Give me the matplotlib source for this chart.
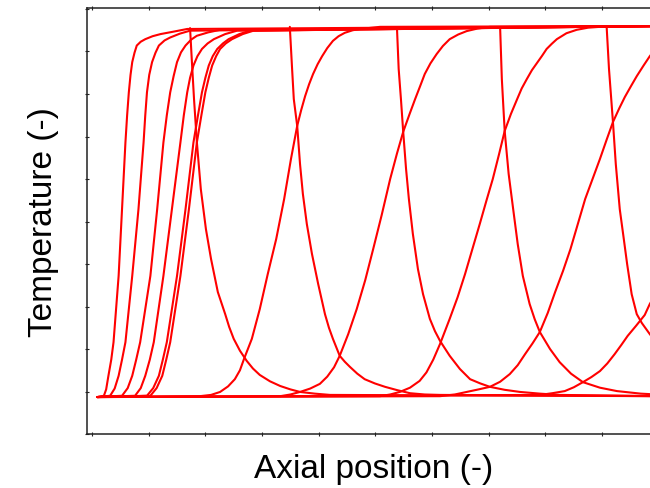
import matplotlib.pyplot as plt

# temperature profiles (axial position vs temperature)
# heating fronts (rising)
xa = [0.10, 0.21, 0.25, 0.29, 0.34, 0.38, 0.47, 0.53, 0.59, 0.62, 0.65, 0.68, 0.71, 0.75, 0.79, 0.86, 0.94, 1.07, 1.21, 1.45, 1.68, 10.1]
ya = [0.87, 0.90, 1.05, 1.37, 1.75, 2.16, 3.72, 5.29, 6.86, 7.50, 8.04, 8.45, 8.75, 8.97, 9.14, 9.23, 9.29, 9.36, 9.41, 9.47, 9.53, 9.60]
xb = [0.10, 0.32, 0.40, 0.47, 0.53, 0.59, 0.71, 0.82, 0.91, 0.94, 0.97, 1.01, 1.06, 1.12, 1.18, 1.28, 1.38, 1.55, 1.73, 10.1]
yb = [0.87, 0.90, 1.07, 1.37, 1.75, 2.16, 3.72, 5.29, 6.86, 7.50, 8.04, 8.45, 8.75, 8.97, 9.14, 9.26, 9.33, 9.42, 9.49, 9.60]
xc = [0.10, 0.53, 0.63, 0.71, 0.78, 0.85, 1.03, 1.15, 1.26, 1.32, 1.38, 1.44, 1.50, 1.57, 1.65, 1.75, 1.85, 2.05, 2.26, 10.1]
yc = [0.87, 0.90, 1.08, 1.37, 1.75, 2.16, 3.72, 5.29, 6.86, 7.50, 8.04, 8.42, 8.75, 8.98, 9.14, 9.28, 9.37, 9.45, 9.51, 9.60]
xd = [0.10, 0.76, 0.86, 0.94, 1.02, 1.09, 1.26, 1.41, 1.56, 1.62, 1.68, 1.73, 1.79, 1.86, 1.94, 2.04, 2.15, 2.35, 2.56, 10.1]
yd = [0.87, 0.90, 1.08, 1.37, 1.75, 2.16, 3.72, 5.29, 6.86, 7.50, 8.04, 8.38, 8.67, 8.89, 9.06, 9.19, 9.29, 9.41, 9.49, 9.60]
xe = [0.10, 0.97, 1.08, 1.18, 1.25, 1.32, 1.50, 1.65, 1.79, 1.87, 1.94, 2.00, 2.06, 2.13, 2.21, 2.31, 2.41, 2.60, 2.79, 10.1]
ye = [0.87, 0.90, 1.08, 1.37, 1.75, 2.16, 3.72, 5.29, 6.86, 7.50, 8.04, 8.38, 8.67, 8.89, 9.06, 9.19, 9.29, 9.41, 9.49, 9.60]
xf = [0.10, 1.03, 1.14, 1.24, 1.31, 1.38, 1.56, 1.71, 1.85, 1.93, 2.00, 2.06, 2.12, 2.19, 2.26, 2.36, 2.47, 2.66, 2.85, 10.1]
yf = [0.87, 0.90, 1.08, 1.37, 1.75, 2.16, 3.72, 5.29, 6.86, 7.50, 8.04, 8.38, 8.67, 8.89, 9.06, 9.19, 9.29, 9.41, 9.49, 9.60]
xg = [0.09, 1.90, 2.10, 2.26, 2.40, 2.52, 2.61, 2.68, 2.75, 2.82, 2.96, 3.10, 3.25, 3.39, 3.51, 3.62, 3.69, 3.76, 3.83,
      3.90, 3.98, 4.06, 4.15, 4.25, 4.35, 4.46, 4.60, 4.73, 5.08, 10.1]
yg = [0.87, 0.89, 0.92, 0.99, 1.12, 1.29, 1.50, 1.76, 2.00, 2.24, 2.94, 3.76, 4.59, 5.53, 6.47, 7.25, 7.62, 7.95, 8.23,
      8.47, 8.70, 8.89, 9.08, 9.25, 9.36, 9.44, 9.50, 9.53, 9.58, 9.60]
xh = [0.09, 3.32, 3.50, 3.67, 3.85, 4.02, 4.15, 4.27, 4.37, 4.52, 4.67, 4.82, 4.96, 5.11, 5.26, 5.38, 5.49, 5.60, 5.70,
      5.79, 5.87, 5.97, 6.08, 6.19, 6.31, 6.46, 6.61, 6.80, 7.02, 10.1]
yh = [0.87, 0.89, 0.93, 0.99, 1.07, 1.18, 1.35, 1.57, 1.84, 2.35, 2.94, 3.62, 4.35, 5.15, 6.00, 6.60, 7.11, 7.52, 7.88,
      8.19, 8.47, 8.72, 8.94, 9.13, 9.29, 9.40, 9.48, 9.54, 9.58, 9.60]
xi = [0.09, 5.08, 5.26, 5.43, 5.61, 5.78, 5.90, 6.02, 6.14, 6.31, 6.45, 6.58, 6.71, 6.84, 6.96, 7.07, 7.18, 7.28, 7.39,
      7.50, 7.58, 7.67, 7.76, 7.85, 7.94, 8.02, 8.11, 8.20, 8.37, 8.55, 8.75, 8.96, 10.1]
yi = [0.87, 0.89, 0.93, 0.99, 1.09, 1.25, 1.45, 1.75, 2.12, 2.71, 3.22, 3.76, 4.35, 4.94, 5.50, 6.00, 6.58, 7.13, 7.53,
      7.88, 8.13, 8.35, 8.56, 8.73, 8.90, 9.06, 9.18, 9.29, 9.43, 9.51, 9.56, 9.58, 9.60]
xj = [0.09, 6.14, 6.40, 6.61, 6.82, 7.02, 7.20, 7.37, 7.51, 7.64, 7.77, 7.90, 8.04, 8.17, 8.31, 8.44, 8.57, 8.70, 8.83,
      8.96, 9.08, 9.19, 9.30, 9.40, 9.51, 9.61, 9.73, 9.84, 10.05]
yj = [0.87, 0.89, 0.93, 0.99, 1.05, 1.11, 1.23, 1.41, 1.62, 1.88, 2.13, 2.40, 2.85, 3.34, 3.84, 4.35, 4.94, 5.53, 6.00,
      6.47, 6.93, 7.34, 7.66, 7.93, 8.19, 8.42, 8.67, 8.89, 9.25]
xk = [0.09, 7.90, 8.12, 8.34, 8.50, 8.66, 8.81, 8.96, 9.09, 9.22, 9.34, 9.45, 9.60, 9.75, 9.84, 10.05]
yk = [0.87, 0.92, 0.96, 1.01, 1.10, 1.22, 1.34, 1.48, 1.66, 1.88, 2.10, 2.31, 2.55, 2.80, 3.06, 3.53]

# cooling fronts (falling)
x1 = [1.73, 1.76, 1.80, 1.85, 1.92, 2.01, 2.10, 2.22, 2.35, 2.42, 2.50, 2.61, 2.73, 2.84, 2.96, 3.14, 3.32, 3.50, 3.67, 3.93, 4.20, 10.1]
y1 = [9.55, 8.82, 7.88, 6.87, 5.76, 4.82, 4.12, 3.34, 2.82, 2.52, 2.24, 1.96, 1.72, 1.54, 1.39, 1.24, 1.13, 1.05, 0.99, 0.95, 0.92, 0.89]
x2 = [3.49, 3.53, 3.56, 3.62, 3.67, 3.72, 3.79, 3.88, 3.99, 4.11, 4.18, 4.25, 4.37, 4.46, 4.55, 4.68, 4.81, 4.99, 5.17, 5.39, 5.61, 5.87, 6.14, 10.1]
y2 = [9.58, 8.59, 7.88, 7.25, 6.35, 5.65, 4.94, 4.24, 3.53, 2.82, 2.50, 2.24, 1.84, 1.70, 1.58, 1.42, 1.29, 1.19, 1.11, 1.03, 0.96, 0.93, 0.92, 0.89]
x3 = [5.38, 5.41, 5.45, 5.49, 5.54, 5.59, 5.66, 5.75, 5.84, 5.96, 6.05, 6.14, 6.31, 6.49, 6.67, 6.85, 7.02, 7.28, 7.55, 7.90, 8.25, 10.1]
y3 = [9.55, 8.59, 7.88, 7.11, 6.24, 5.53, 4.71, 3.88, 3.29, 2.71, 2.42, 2.19, 1.84, 1.53, 1.29, 1.19, 1.11, 1.04, 0.99, 0.95, 0.92, 0.89]
x4 = [7.20, 7.23, 7.28, 7.35, 7.43, 7.51, 7.60, 7.72, 7.81, 7.90, 8.08, 8.25, 8.45, 8.66, 8.96, 9.26, 9.68, 10.1]
y4 = [9.55, 8.35, 7.13, 6.12, 5.29, 4.47, 3.72, 3.06, 2.70, 2.40, 2.00, 1.69, 1.42, 1.22, 1.09, 1.01, 0.95, 0.92]
x5 = [9.08, 9.12, 9.19, 9.24, 9.31, 9.38, 9.44, 9.52, 9.61, 9.70, 9.84, 10.05]
y5 = [9.55, 8.59, 7.34, 6.35, 5.29, 4.60, 4.00, 3.29, 2.82, 2.61, 2.35, 2.00]

rising = [(xa, ya), (xb, yb), (xc, yc), (xd, yd), (xe, ye), (xf, yf),
          (xg, yg), (xh, yh), (xi, yi), (xj, yj), (xk, yk)]
falling = [(x1, y1), (x2, y2), (x3, y3), (x4, y4), (x5, y5)]

plt.rcParams['font.family'] = ['Liberation Sans', 'DejaVu Sans']

fig = plt.figure(figsize=(6.5, 4.89), dpi=100)
ax = fig.add_axes([0.1334, 0.1104, 0.882, 0.8722])

for xs, ys in rising + falling:
    ax.plot(xs, ys, color='#ff0000', lw=1.5, solid_joinstyle='round', solid_capstyle='round')

ax.set_xlim(-0.093, 10.02)
ax.set_ylim(0, 10.035)
ax.set_xticks(range(0, 11))
ax.set_yticks(range(0, 11))
ax.set_xticklabels([])
ax.set_yticklabels([])
ax.tick_params(direction='inout', length=3, width=0.8, top=True, right=True, colors='#222222')
for s in ax.spines.values():
    s.set_linewidth(1.1)
    s.set_color('#222222')

ax.set_xlabel('Axial position (-)', fontsize=24, labelpad=9)
ax.set_ylabel('Temperature (-)', fontsize=24, labelpad=15)

fig.savefig('out.png', dpi=100)
